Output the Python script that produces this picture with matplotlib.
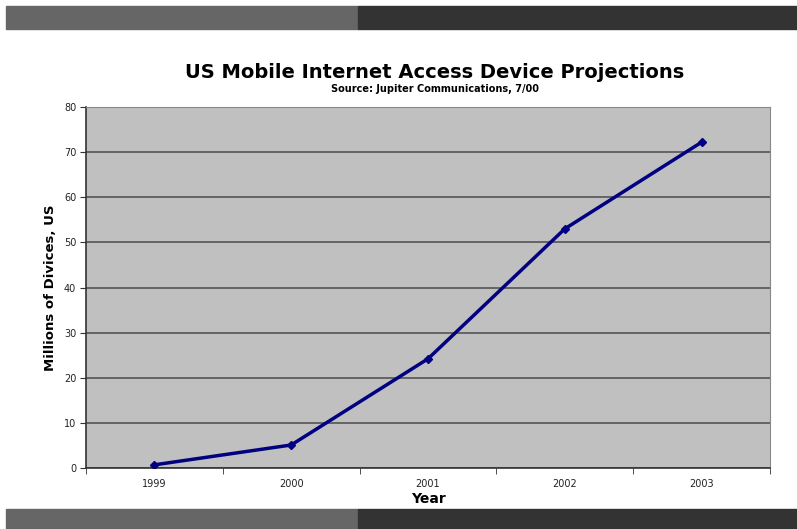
import matplotlib
matplotlib.use("Agg")
import matplotlib.pyplot as plt
from matplotlib.patches import Rectangle
from matplotlib.ticker import FixedLocator

years = ["1999", "2000", "2001", "2002", "2003"]
devices = [0.7, 5.1, 24.2, 53.0, 72.2]
yticks = [0, 10, 20, 30, 40, 50, 60, 70, 80]

W, H = 797, 529
fig = plt.figure(figsize=(W/100, H/100), dpi=100)
fig.patch.set_facecolor("white")

# decorative bars
def bar(y0, y1):
    fig.patches.append(Rectangle((6/W, 1 - y1/H), (358-6)/W, (y1-y0)/H,
                                 transform=fig.transFigure, color="#666666", zorder=0))
    fig.patches.append(Rectangle((358/W, 1 - y1/H), (W-358)/W, (y1-y0)/H,
                                 transform=fig.transFigure, color="#333333", zorder=0))
bar(6, 29)
bar(509, 529)

left, right, top, bottom = 86, 770, 107, 468
ax = fig.add_axes([left/W, 1 - bottom/H, (right-left)/W, (bottom-top)/H])
ax.set_facecolor("#c0c0c0")
x = list(range(len(years)))
ax.plot(x, devices, color="#000080", lw=2.5, marker="D", ms=4.5, zorder=3)
ax.set_xlim(-0.5, len(years) - 0.5)
ax.set_ylim(0, 80)
ax.set_yticks(yticks)
ax.set_yticklabels([str(v) for v in yticks], fontsize=7, color="#222222")
ax.set_xticks(x)
ax.set_xticklabels(years, fontsize=7, color="#222222")
ax.xaxis.set_minor_locator(FixedLocator([i + 0.5 for i in range(-1, len(years))]))
ax.tick_params(axis="x", which="major", length=0, pad=8)
ax.tick_params(axis="x", which="minor", length=4, color="#333333")
ax.tick_params(axis="y", length=4, color="#333333", pad=3)
ax.grid(axis="y", color="#555555", lw=1.2)
ax.set_axisbelow(True)
for s in ["top", "right"]:
    ax.spines[s].set_color("#888888")
    ax.spines[s].set_linewidth(0.8)
for s in ["left", "bottom"]:
    ax.spines[s].set_color("#333333")
    ax.spines[s].set_linewidth(1.2)

ax.set_ylabel("Millions of Divices, US", fontsize=9.5, fontweight="bold", labelpad=5)
ax.set_xlabel("Year", fontsize=10, fontweight="bold", labelpad=2)
fig.text(435/W, 1 - 72/H, "US Mobile Internet Access Device Projections",
         ha="center", va="center", fontsize=14, fontweight="bold")
fig.text(435/W, 1 - 89/H, "Source: Jupiter Communications, 7/00",
         ha="center", va="center", fontsize=7, fontweight="bold")

fig.savefig("out.png", dpi=100)
